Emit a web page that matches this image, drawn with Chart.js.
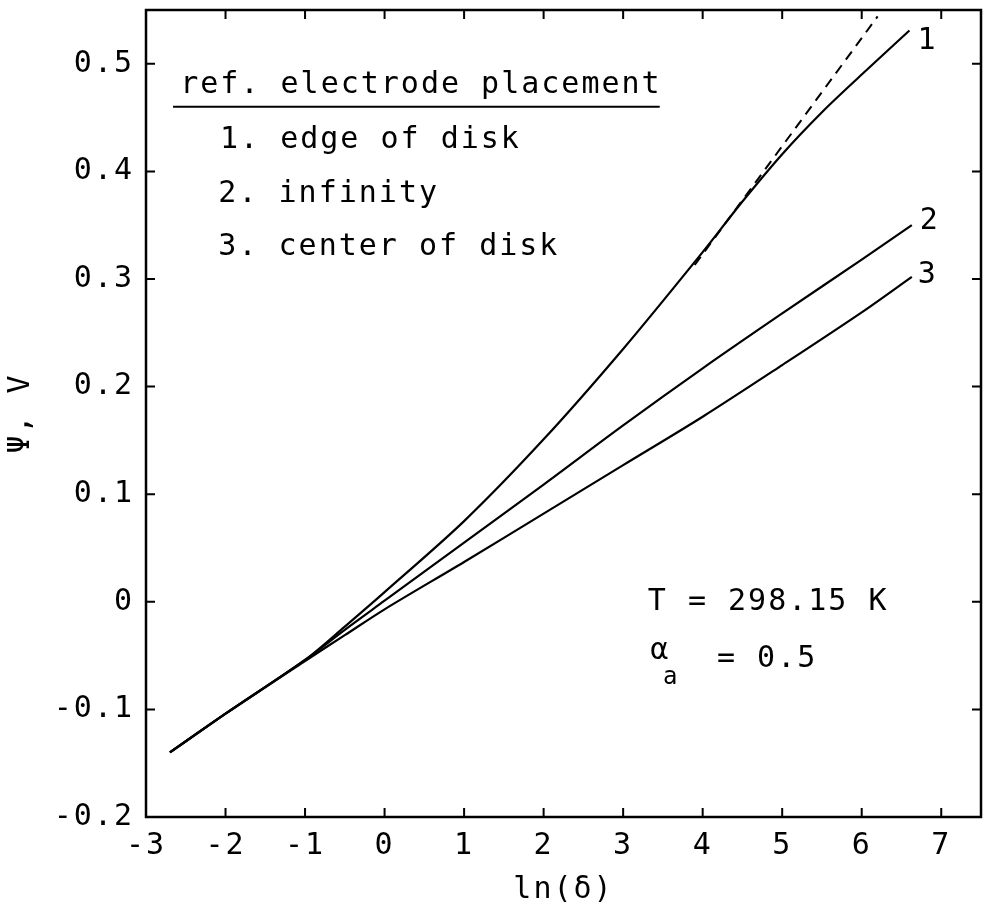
<!DOCTYPE html>
<html>
<head>
<meta charset="utf-8">
<script src="https://cdn.jsdelivr.net/npm/chart.js@4"></script>
<style>
  html, body { margin: 0; padding: 0; background: #fff; }
  #wrap { width: 983px; height: 908px; }
</style>
</head>
<body>
<div id="wrap"><canvas id="myChart"></canvas></div>
<script>
const xTicks = [-3, -2, -1, 0, 1, 2, 3, 4, 5, 6, 7];
const yTicks = [-0.2, -0.1, 0, 0.1, 0.2, 0.3, 0.4, 0.5];

// 1. edge of disk
const edgeX = [-2.7, -2, -1, -0.5, 0, 1, 2, 3, 4, 4.5, 5, 5.5, 6, 6.6];
const edgeY = [-0.14, -0.104, -0.054, -0.023, 0.009, 0.075, 0.151, 0.235, 0.325, 0.372, 0.416, 0.455, 0.490, 0.531];

// 2. infinity
const infX = [-2.7, -2, -1, -0.5, 0, 1, 2, 3, 4, 5, 6, 6.63];
const infY = [-0.14, -0.104, -0.054, -0.026, 0.001, 0.055, 0.109, 0.164, 0.217, 0.268, 0.318, 0.350];

// 3. center of disk
const centerX = [-2.7, -2, -1, -0.5, 0, 1, 2, 3, 4, 5, 6, 6.63];
const centerY = [-0.14, -0.104, -0.055, -0.031, -0.007, 0.037, 0.082, 0.127, 0.172, 0.220, 0.269, 0.302];

// dashed straight line
const dashX = [3.9, 6.2];
const dashY = [0.313, 0.544];

const curveLabels = ["1", "2", "3"];

const FONT = "'DejaVu Sans Mono', monospace";

function pts(xs, ys) {
  return xs.map((x, i) => ({ x: x, y: ys[i] }));
}

function curve(xs, ys) {
  return {
    data: pts(xs, ys),
    showLine: true,
    borderColor: "#000",
    borderWidth: 2.2,
    pointRadius: 0,
    tension: 0.3,
    fill: false
  };
}

const frame = {
  id: "frame",
  beforeDraw(chart) {
    chart.ctx.letterSpacing = "2px";
  },
  afterDatasetsDraw(chart) {
    const ctx = chart.ctx;
    const a = chart.chartArea;
    const xs = chart.scales.x, ys = chart.scales.y;
    ctx.save();
    ctx.strokeStyle = "#000";
    ctx.lineWidth = 2.5;
    ctx.strokeRect(a.left, a.top, a.right - a.left, a.bottom - a.top);
    ctx.lineWidth = 2;
    ctx.beginPath();
    xTicks.forEach(v => {
      const p = xs.getPixelForValue(v);
      ctx.moveTo(p, a.bottom); ctx.lineTo(p, a.bottom - 9);
      ctx.moveTo(p, a.top); ctx.lineTo(p, a.top + 9);
    });
    yTicks.forEach(v => {
      const p = ys.getPixelForValue(v);
      ctx.moveTo(a.left, p); ctx.lineTo(a.left + 9, p);
      ctx.moveTo(a.right, p); ctx.lineTo(a.right - 9, p);
    });
    ctx.stroke();

    const X = v => xs.getPixelForValue(v);
    const Y = v => ys.getPixelForValue(v);
    ctx.fillStyle = "#000";
    ctx.textAlign = "left";
    ctx.textBaseline = "alphabetic";
    ctx.font = "30px " + FONT;
    ctx.fillText("ref. electrode placement", X(-2.57), Y(0.473));
    ctx.fillText("1. edge of disk", X(-2.07), Y(0.422));
    ctx.fillText("2. infinity", X(-2.09), Y(0.372));
    ctx.fillText("3. center of disk", X(-2.09), Y(0.322));
    ctx.lineWidth = 2;
    ctx.beginPath();
    ctx.moveTo(X(-2.66), Y(0.46));
    ctx.lineTo(X(3.46), Y(0.46));
    ctx.stroke();

    ctx.fillText("T = 298.15 K", X(3.31), Y(-0.008));
    ctx.fillText("α", X(3.34), Y(-0.053));
    ctx.fillText("= 0.5", X(4.18), Y(-0.061));
    ctx.font = "24px " + FONT;
    ctx.fillText("a", X(3.50), Y(-0.076));

    // numbers at the curve ends
    ctx.font = "30px " + FONT;
    ctx.textBaseline = "middle";
    const ends = [[edgeX, edgeY, 8, 11], [infX, infY, 8, -4], [centerX, centerY, 6, -2]];
    ends.forEach((e, i) => {
      const n = e[0].length - 1;
      ctx.fillText(curveLabels[i], X(e[0][n]) + e[2], Y(e[1][n]) + e[3]);
    });
    ctx.restore();
  }
};

const config = {
  type: "scatter",
  data: {
    datasets: [
      curve(edgeX, edgeY),
      curve(infX, infY),
      curve(centerX, centerY),
      {
        data: pts(dashX, dashY),
        showLine: true,
        borderColor: "#000",
        borderWidth: 2,
        borderDash: [10, 7],
        pointRadius: 0
      }
    ]
  },
  options: {
    responsive: true,
    maintainAspectRatio: false,
    animation: false,
    layout: { padding: { left: 0, right: 2, top: 10, bottom: 0 } },
    plugins: { legend: false, tooltip: { enabled: false } },
    scales: {
      x: {
        type: "linear",
        min: -3,
        max: 7.5,
        afterBuildTicks: s => { s.ticks = xTicks.map(v => ({ value: v })); },
        afterFit: s => { s.height = 91; s.paddingLeft = 0; s.paddingRight = 0; },
        grid: { display: false, drawTicks: false },
        border: { display: false },
        ticks: {
          padding: 11,
          color: "#000",
          font: { family: FONT, size: 30 },
          maxRotation: 0,
          callback: v => String(v)
        },
        title: {
          display: true,
          text: "ln(δ)",
          color: "#000",
          font: { family: FONT, size: 30, lineHeight: 1 },
          padding: { top: 0, bottom: 3 }
        }
      },
      y: {
        min: -0.2,
        max: 0.55,
        afterBuildTicks: s => { s.ticks = yTicks.map(v => ({ value: v })); },
        afterFit: s => { s.width = 146; s.paddingTop = 0; s.paddingBottom = 0; },
        grid: { display: false, drawTicks: false },
        border: { display: false },
        ticks: {
          padding: 12,
          color: "#000",
          font: { family: FONT, size: 30 },
          callback: v => (Math.abs(v) < 1e-9 ? "0" : v.toFixed(1))
        },
        title: {
          display: true,
          text: "Ψ, V",
          color: "#000",
          font: { family: FONT, size: 30, lineHeight: 1 },
          padding: { top: 6, bottom: 0 }
        }
      }
    }
  },
  plugins: [frame]
};

const myChart = new Chart(document.getElementById("myChart"), config);
</script>
</body>
</html>
